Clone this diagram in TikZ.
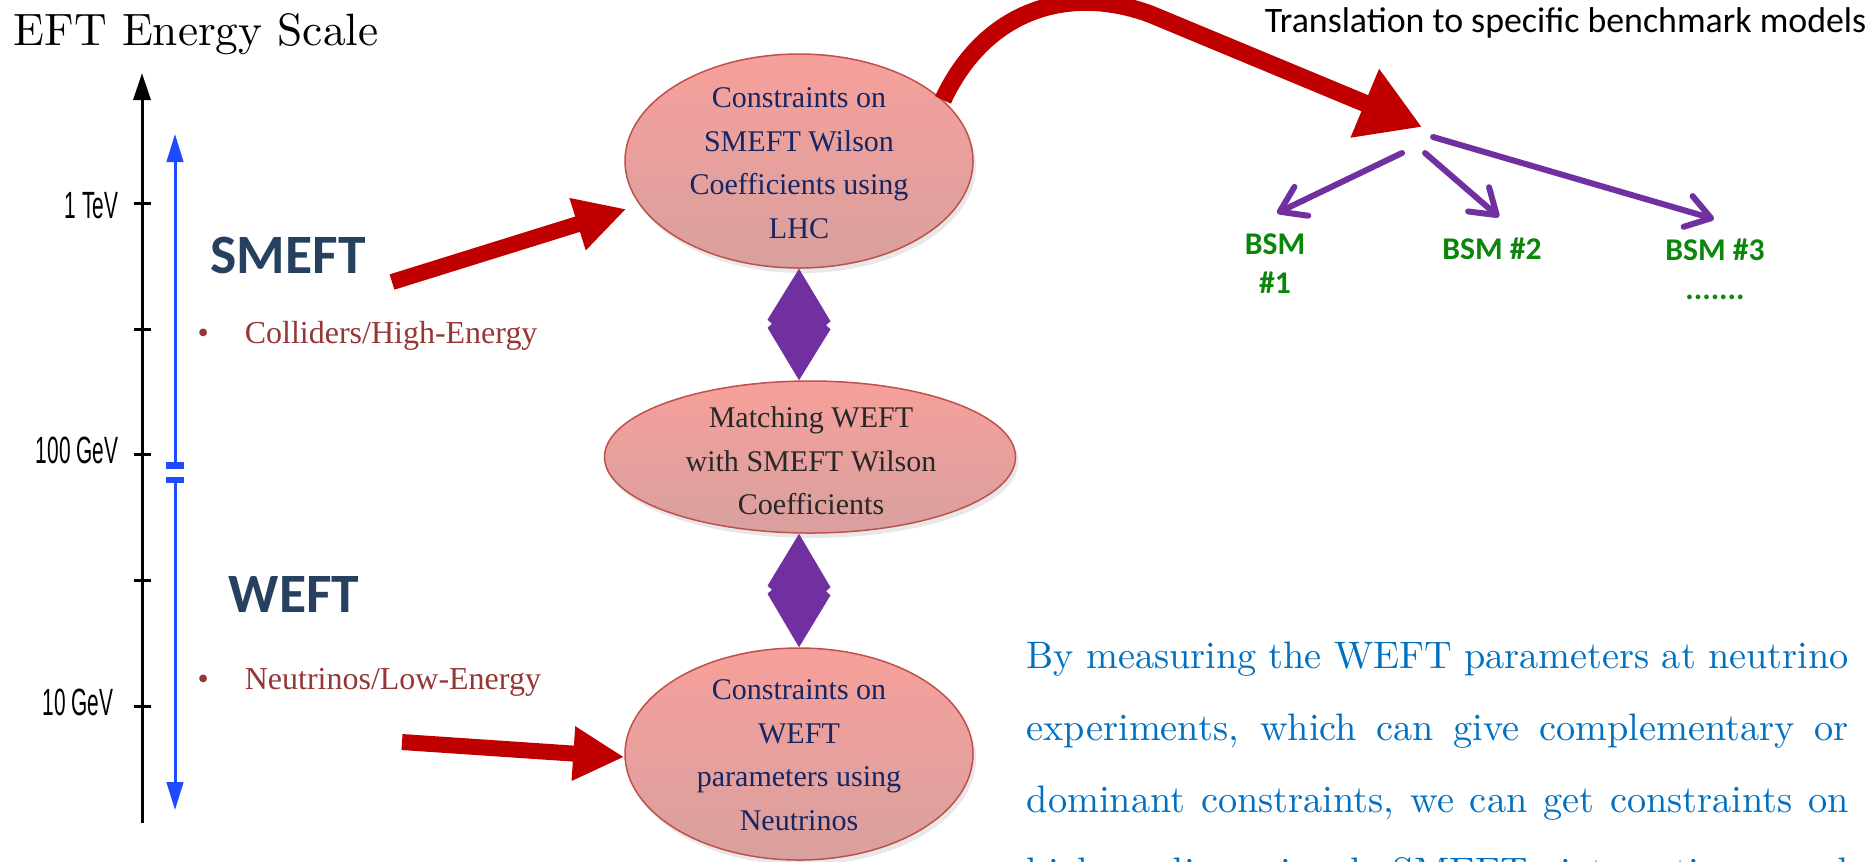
\documentclass[tikz,border=0pt]{standalone}
\usepackage{fontspec}
\newfontfamily\baskfont{Liberation Serif}
\newfontfamily\calibfont{Carlito}
\newfontfamily\gillfont{Liberation Sans}
\newfontfamily\titlefont{lmroman10-regular.otf}
\usetikzlibrary{arrows.meta,shapes.geometric,shadows,calc}
\definecolor{darkred}{RGB}{192,0,0}
\definecolor{ppurple}{RGB}{112,48,160}
\definecolor{axisblue}{RGB}{30,75,255}
\definecolor{navy}{RGB}{38,64,96}
\definecolor{brownred}{RGB}{149,55,53}
\definecolor{elltop}{RGB}{247,160,155}
\definecolor{ellbot}{RGB}{216,160,158}
\definecolor{ellborder}{RGB}{192,80,77}
\definecolor{elltext}{RGB}{22,38,100}
\definecolor{elltextb}{RGB}{40,40,40}
\definecolor{bsmgreen}{RGB}{10,135,10}
\definecolor{parablue}{RGB}{0,112,192}
\begin{document}
\begin{tikzpicture}[x=0.1mm,y=-0.1mm,
  ell/.style={ellipse, draw=ellborder, line width=0.15mm, top color=elltop, bottom color=ellbot, inner sep=0,
    drop shadow={opacity=0.18, shadow xshift=0.3mm, shadow yshift=-0.5mm}},
  etext/.style={inner sep=0, align=center, anchor=north, font=\baskfont\fontsize{8.55}{12.4}\selectfont},
  ticklabel/.style={inner sep=0, anchor=base east, font=\gillfont\fontsize{10.8}{13}\selectfont},
  effname/.style={inner sep=0, anchor=base west, text=navy, font=\calibfont\bfseries\fontsize{15.8}{18}\selectfont},
  bulletitem/.style={inner sep=0, anchor=base west, text=brownred, font=\baskfont\fontsize{9.1}{11}\selectfont},
  redarrow/.style={draw=darkred, line width=1.6mm, -{Triangle[length=5.1mm,width=5.1mm]}},
  bluearrow/.style={draw=axisblue, line width=0.3mm, -{Triangle[length=2.8mm,width=1.65mm]}},
  parrow/.style={draw=ppurple, line width=0.6mm, line cap=round, -{Straight Barb[length=2.4mm,width=3.2mm,round]}},
  bsm/.style={inner sep=0, anchor=north, align=center, text=bsmgreen, font=\calibfont\bfseries\fontsize{9}{11.1}\selectfont}
]
\useasboundingbox (0,0) rectangle (1875,861);
\clip (0,0) rectangle (1875,861);
\fill[white] (0,0) rectangle (1875,861);

% title
\node[inner sep=0, anchor=base west, font=\titlefont\fontsize{12.9}{15}\selectfont] (title) at (13,45) {EFT Energy Scale};

% energy axis
\coordinate (axbot) at (142,823);
\coordinate (axtop) at (142,73);
\draw[line width=0.3mm, -{Triangle[length=2.7mm,width=1.7mm]}] (axbot) -- (axtop);
\foreach \y in {203,329,454,580,706} \draw[line width=0.3mm] (134,\y) -- (151,\y);
\node[ticklabel] (l1) at (119,218) {\scalebox{0.55}[1]{1 TeV}};
\node[ticklabel] (l2) at (119,463) {\scalebox{0.55}[1]{100 GeV}};
\node[ticklabel] (l3) at (114,715) {\scalebox{0.55}[1]{10 GeV}};

% blue range arrows
\coordinate (bup0) at (175,465.5);
\coordinate (bup1) at (175,134);
\coordinate (bdn0) at (175,480);
\coordinate (bdn1) at (175,810);
\draw[bluearrow] (bup0) -- (bup1);
\draw[bluearrow] (bdn0) -- (bdn1);
\draw[axisblue, line width=0.7mm] (166,465.5) -- (184,465.5);
\draw[axisblue, line width=0.6mm] (166,480) -- (184,480);

% regime labels
\node[effname] (smeft) at (210,273) {SMEFT};
\node[effname] (weft) at (228,612) {WEFT};
\node[bulletitem] (coll) at (197,343) {\textbullet\hspace{3.6mm}Colliders/High-Energy};
\node[bulletitem] (neut) at (197,689) {\textbullet\hspace{3.6mm}Neutrinos/Low-Energy};

% ellipses
\node[ell, minimum width=34.8mm, minimum height=21.4mm] (e1) at (799,161) {};
\node[ell, minimum width=41.1mm, minimum height=15.2mm] (e2) at (810,457) {};
\node[ell, minimum width=34.8mm, minimum height=21.2mm] (e3) at (799,754) {};
\node[etext, text=elltext] (t1) at (799,87) {Constraints on\\SMEFT Wilson\\Coefficients using\\LHC};
\node[etext, text=elltextb] (t2) at (811,406) {Matching WEFT\\with SMEFT Wilson\\Coefficients};
\node[etext, text=elltext] (t3) at (799,679) {Constraints on\\WEFT\\parameters using\\Neutrinos};

% double arrows between ellipses
\fill[ppurple] (e1.south) -- ++(31.5,52.5) -- ++(-4.5,4) -- ++(4.5,4) -- (e1.south |- e2.north)
  -- ++(-31.5,-52.5) -- ++(4.5,-4) -- ++(-4.5,-4) -- cycle;
\fill[ppurple] (e2.south -| e3.north) -- ++(31.5,53.5) -- ++(-4.5,4) -- ++(4.5,4) -- (e3.north)
  -- ++(-31.5,-53.5) -- ++(4.5,-4) -- ++(-4.5,-4) -- cycle;

% red arrows
\coordinate (r1tail) at (392,282);
\coordinate (r2tail) at (402,742);
\draw[redarrow] (r1tail) -- ([shift={(2,48)}]e1.west);
\draw[redarrow] (r2tail) -- ([shift={(0,3)}]e3.west);
\coordinate (hub) at (1422,127);
\draw[draw=darkred, line width=1.75mm, line join=round, -{Triangle[length=6.2mm,width=7mm]}]
  (e1.23) .. controls (985,10) and (1068,-16) .. (1150,14) -- (hub);

% translation
\node[inner sep=0, anchor=base east, font=\calibfont\fontsize{10.2}{12}\selectfont] (trans) at (1867,32) {Translation to specific benchmark models};

% BSM labels
\node[bsm] (bsm1) at (1275,233) {BSM\\\#1};
\node[bsm] (bsm2) at (1492,237) {BSM \#2};
\node[bsm] (bsm3) at (1715,238) {BSM \#3\\.......};
\coordinate (p1s) at (1402,153);
\coordinate (p2s) at (1425,153);
\coordinate (p3s) at (1433,137);
\draw[parrow] (p1s) -- ([shift={(2,-20)}]bsm1.north);
\draw[parrow] (p2s) -- ([shift={(7,-20)}]bsm2.north);
\draw[parrow] (p3s) -- ([shift={(-1,-19)}]bsm3.north);

% paragraph
\node[inner sep=0, anchor=north west, align=left, text=parablue, font=\fontsize{10.9}{20.5}\selectfont] (para) at (1026,641)
{\makebox[82.2mm][s]{By measuring the WEFT parameters at neutrino}\\
 \makebox[82.2mm][s]{experiments, which can give complementary or}\\
 \makebox[82.2mm][s]{dominant constraints, we can get constraints on}\\
 \makebox[82.2mm][s]{higher dimensional SMEFT interactions and}};
\end{tikzpicture}
\end{document}
